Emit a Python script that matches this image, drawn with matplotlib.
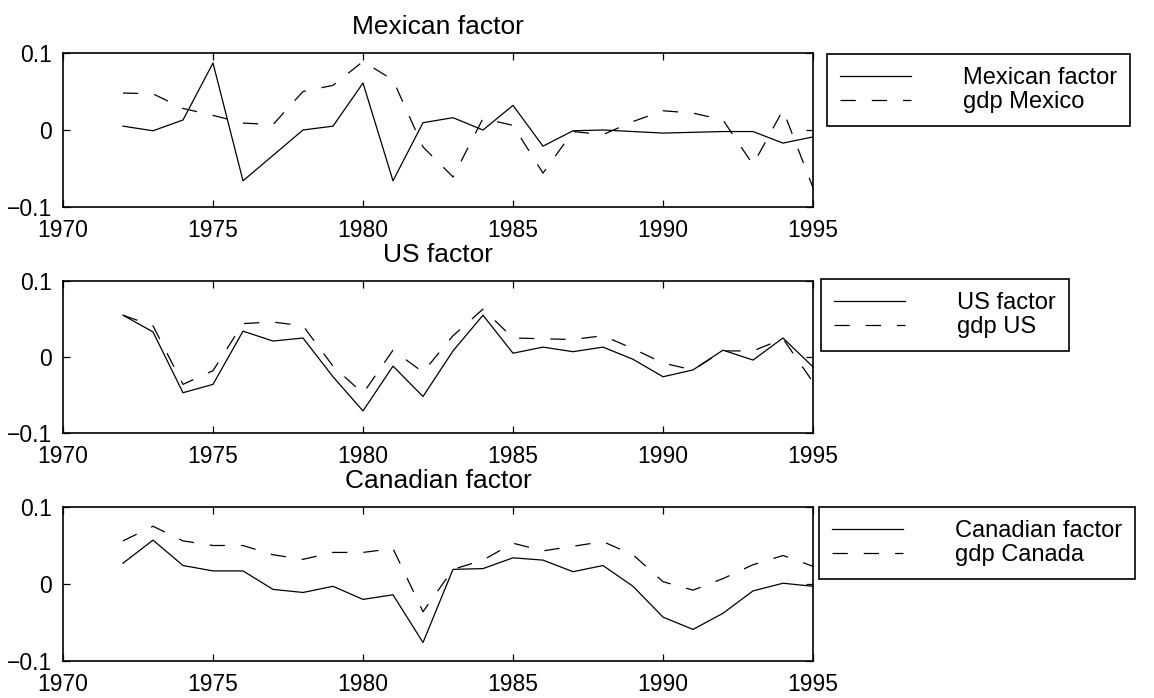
import numpy as np
import matplotlib
matplotlib.use('Agg')
import matplotlib.pyplot as plt

years = list(range(1972, 1996))

mex_factor = [0.005, -0.001, 0.013, 0.087, -0.066, -0.033, 0.0, 0.005, 0.061, -0.066,
              0.0095, 0.016, 0.0, 0.032, -0.021, -0.001, 0.0, -0.002, -0.004, -0.003,
              -0.002, -0.002, -0.017, -0.009]
gdp_mex = [0.048, 0.047, 0.028, 0.019, 0.009, 0.007, 0.050, 0.058, 0.089, 0.065,
           -0.022, -0.061, 0.015, 0.006, -0.056, -0.002, -0.006, 0.011, 0.025, 0.022,
           0.013, -0.045, 0.026, -0.075]

us_factor = [0.055, 0.033, -0.047, -0.036, 0.034, 0.021, 0.025, -0.026, -0.071, -0.012,
             -0.052, 0.008, 0.055, 0.005, 0.013, 0.007, 0.013, -0.003, -0.026, -0.017,
             0.009, -0.004, 0.025, -0.013]
gdp_us = [0.055, 0.041, -0.036, -0.018, 0.044, 0.046, 0.041, -0.012, -0.048, 0.009,
          -0.020, 0.028, 0.063, 0.025, 0.024, 0.023, 0.028, 0.011, -0.008, -0.017,
          0.008, 0.008, 0.024, -0.033]

can_factor = [0.027, 0.057, 0.024, 0.017, 0.017, -0.007, -0.011, -0.003, -0.020, -0.014,
              -0.076, 0.019, 0.020, 0.034, 0.031, 0.016, 0.024, -0.003, -0.043, -0.059,
              -0.038, -0.009, 0.001, -0.003]
gdp_can = [0.056, 0.075, 0.056, 0.050, 0.050, 0.038, 0.032, 0.041, 0.041, 0.046,
           -0.036, 0.019, 0.031, 0.053, 0.043, 0.049, 0.055, 0.038, 0.003, -0.008,
           0.007, 0.025, 0.037, 0.023]

titles = ['Mexican factor', 'US factor', 'Canadian factor']
labels = [['Mexican factor', 'gdp Mexico'], ['US factor', 'gdp US'], ['Canadian factor', 'gdp Canada']]
series = [(mex_factor, gdp_mex), (us_factor, gdp_us), (can_factor, gdp_can)]

xticks = [1970, 1975, 1980, 1985, 1990, 1995]
yticks = [-0.1, 0, 0.1]
yticklabels = ['\u22120.1', '0', '0.1']

plt.rcParams['font.family'] = ['Liberation Sans', 'DejaVu Sans']
plt.rcParams['lines.scale_dashes'] = False

W, H = 1154, 698
fig = plt.figure(figsize=(W / 100, H / 100), dpi=100)

# axes boxes in pixels: (top, bottom)
boxes = [(53, 207), (281, 433), (507, 661)]
leg_pos = [(827, 54), (821, 279), (819, 507)]

for i in range(3):
    top, bot = boxes[i]
    ax = fig.add_axes([63 / W, 1 - bot / H, 750 / W, (bot - top) / H])
    f, g = series[i]
    ax.plot(years, f, 'k-', lw=0.9, label=labels[i][0])
    ax.plot(years, g, 'k', lw=0.9, dashes=(11, 11.5), label=labels[i][1])
    ax.set_xlim(1970, 1995)
    ax.set_ylim(-0.1, 0.1)
    ax.set_xticks(xticks)
    ax.set_yticks(yticks)
    ax.set_yticklabels(yticklabels)
    ax.tick_params(direction='in', length=5, width=0.9, top=True, right=True, labelsize=16.5)
    ax.tick_params(axis='x', pad=8.5)
    ax.tick_params(axis='y', pad=8)
    for s in ax.spines.values():
        s.set_linewidth(1.2)
    ax.set_title(titles[i], fontsize=19, pad=13.5)
    lx, ly = leg_pos[i]
    ax.legend(loc='upper left', bbox_to_anchor=(lx / W, 1 - ly / H),
              bbox_transform=fig.transFigure, borderaxespad=0, fancybox=False,
              edgecolor='black', framealpha=1, handlelength=3.0, handletextpad=2.2,
              labelspacing=0.1, borderpad=0.55, fontsize=17)
    ax.get_legend().get_frame().set_linewidth(1.2)

fig.savefig('out.png', dpi=100)
